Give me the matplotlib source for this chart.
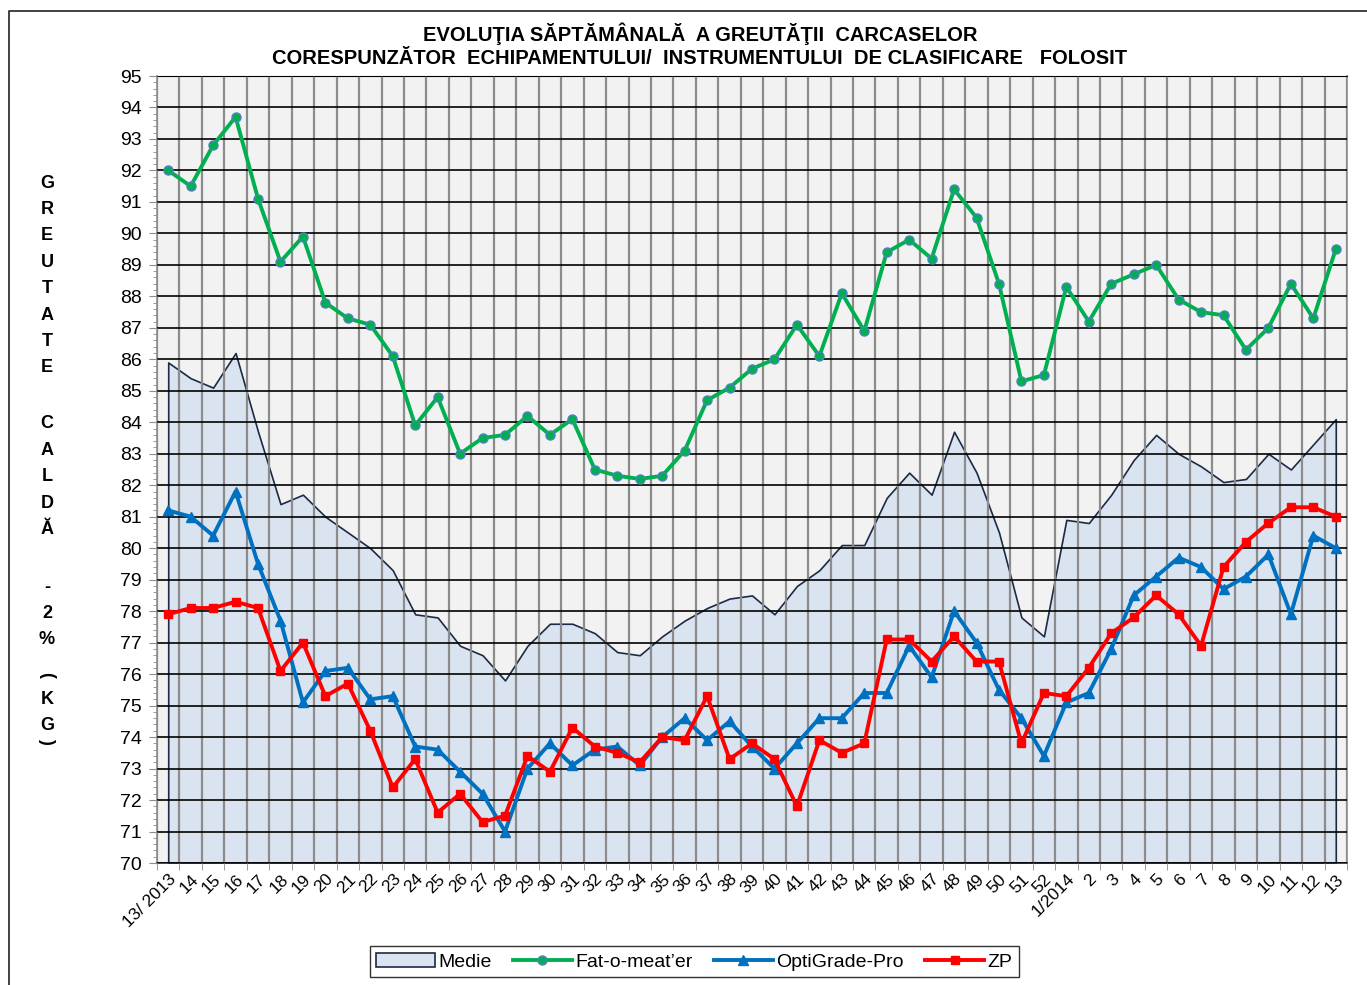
import matplotlib
matplotlib.use("Agg")
import matplotlib.pyplot as plt
from matplotlib.lines import Line2D
from matplotlib.ticker import MultipleLocator, FixedLocator

plt.rcParams['font.family'] = ['Liberation Sans', 'DejaVu Sans']

# week labels: 13/2013 ... 52, 1/2014 ... 13
weeks = ["13/ 2013"] + [str(w) for w in range(14, 53)] + ["1/2014"] + [str(w) for w in range(2, 14)]

medie = [85.9, 85.4, 85.1, 86.2, 83.7, 81.4, 81.7, 81.0, 80.5, 80.0,
         79.3, 77.9, 77.8, 76.9, 76.6, 75.8, 76.9, 77.6, 77.6, 77.3,
         76.7, 76.6, 77.2, 77.7, 78.1, 78.4, 78.5, 77.9, 78.8, 79.3,
         80.1, 80.1, 81.6, 82.4, 81.7, 83.7, 82.4, 80.5, 77.8, 77.2,
         80.9, 80.8, 81.7, 82.8, 83.6, 83.0, 82.6, 82.1, 82.2, 83.0,
         82.5, 83.3, 84.1]
fat_o_meater = [92.0, 91.5, 92.8, 93.7, 91.1, 89.1, 89.9, 87.8, 87.3, 87.1,
                86.1, 83.9, 84.8, 83.0, 83.5, 83.6, 84.2, 83.6, 84.1, 82.5,
                82.3, 82.2, 82.3, 83.1, 84.7, 85.1, 85.7, 86.0, 87.1, 86.1,
                88.1, 86.9, 89.4, 89.8, 89.2, 91.4, 90.5, 88.4, 85.3, 85.5,
                88.3, 87.2, 88.4, 88.7, 89.0, 87.9, 87.5, 87.4, 86.3, 87.0,
                88.4, 87.3, 89.5]
optigrade = [81.2, 81.0, 80.4, 81.8, 79.5, 77.7, 75.1, 76.1, 76.2, 75.2,
             75.3, 73.7, 73.6, 72.9, 72.2, 71.0, 73.0, 73.8, 73.1, 73.6,
             73.7, 73.1, 74.0, 74.6, 73.9, 74.5, 73.7, 73.0, 73.8, 74.6,
             74.6, 75.4, 75.4, 76.9, 75.9, 78.0, 77.0, 75.5, 74.6, 73.4,
             75.1, 75.4, 76.8, 78.5, 79.1, 79.7, 79.4, 78.7, 79.1, 79.8,
             77.9, 80.4, 80.0]
zp = [77.9, 78.1, 78.1, 78.3, 78.1, 76.1, 77.0, 75.3, 75.7, 74.2,
      72.4, 73.3, 71.6, 72.2, 71.3, 71.5, 73.4, 72.9, 74.3, 73.7,
      73.5, 73.2, 74.0, 73.9, 75.3, 73.3, 73.8, 73.3, 71.8, 73.9,
      73.5, 73.8, 77.1, 77.1, 76.4, 77.2, 76.4, 76.4, 73.8, 75.4,
      75.3, 76.2, 77.3, 77.8, 78.5, 77.9, 76.9, 79.4, 80.2, 80.8,
      81.3, 81.3, 81.0]

W, H = 1367, 985
fig = plt.figure(figsize=(W / 100, H / 100), dpi=100)
ax = fig.add_axes([157 / W, 1 - 863 / H, (1347 - 157) / W, (863 - 76) / H])
ax.set_facecolor("#f2f2f2")
x = list(range(len(weeks)))

# area + series
ax.fill_between(x, medie, 70, facecolor="#dae3f0", edgecolor="#1c2a44", lw=1.2, zorder=1)
ax.plot(x, fat_o_meater, color="#00b050", lw=2.8, marker="o", ms=6.5,
        mfc="#00b050", mec="#4f81bd", mew=1.0, zorder=4)
ax.plot(x, optigrade, color="#0070c0", lw=2.8, marker="^", ms=6.5,
        mfc="#0070c0", mec="#0070c0", zorder=4)
ax.plot(x, zp, color="#ff0000", lw=2.8, marker="s", ms=5.5,
        mfc="#ff0000", mec="#ff0000", zorder=5)

ax.set_xlim(-0.5, len(weeks) - 0.5)
ax.set_ylim(70, 95)

# grid: black horizontal at every kg, grey vertical between weeks
ax.set_axisbelow(False)
ax.yaxis.set_major_locator(MultipleLocator(1))
ax.yaxis.set_minor_locator(MultipleLocator(0.2))
ax.grid(axis="y", which="major", color="black", lw=1.2, zorder=2)
ax.set_xticks(x)
ax.set_xticklabels(weeks, rotation=45, ha="right", rotation_mode="anchor", fontsize=12.5)
ax.xaxis.set_minor_locator(FixedLocator([i - 0.5 for i in range(len(weeks) + 1)]))
ax.grid(axis="x", which="minor", color="#8c8c8c", lw=1.6, zorder=2)
ax.tick_params(axis="x", which="major", length=0, pad=6)
ax.tick_params(axis="x", which="minor", length=5, color="#8c8c8c", direction="out")
ax.tick_params(axis="y", which="major", length=6, color="#8c8c8c", labelsize=14, pad=5)
ax.tick_params(axis="y", which="minor", length=3, color="#8c8c8c")
for s in ["left", "right"]:
    ax.spines[s].set_color("#8c8c8c")
    ax.spines[s].set_linewidth(1.2)
ax.spines["bottom"].set_color("#1c2a44")
ax.spines["bottom"].set_linewidth(1.2)
ax.spines["top"].set_color("black")

# title
fig.text(0.512, 0.954,
         "EVOLUŢIA SĂPTĂMÂNALĂ  A GREUTĂŢII  CARCASELOR\n"
         "CORESPUNZĂTOR  ECHIPAMENTULUI/  INSTRUMENTULUI  DE CLASIFICARE   FOLOSIT",
         ha="center", va="center", fontsize=14.5, fontweight="bold", linespacing=1.3)

# stacked y label
ylab = ([(c, 183 + 26.4 * i) for i, c in enumerate("GREUTATE")] +
        [(c, 424 + 26.5 * i) for i, c in enumerate("CALDĂ")] +
        [("-", 588), ("2", 614), ("%", 640), ("K", 700), ("G", 726)])
for c, yp in ylab:
    fig.text(47 / W, 1 - yp / H, c, ha="center", va="center", fontsize=13, fontweight="bold")
fig.text(47 / W, 1 - 675 / H, "(", ha="center", va="center", fontsize=13, fontweight="bold", rotation=-90)
fig.text(47 / W, 1 - 741 / H, ")", ha="center", va="center", fontsize=13, fontweight="bold", rotation=-90)

# outer chart border (left + top)
fig.add_artist(Line2D([9 / W, 9 / W, 1], [0, 1 - 11 / H, 1 - 11 / H], color="#333333", lw=1.3))

# legend
handles = [plt.Rectangle((0, 0), 1, 1, fc="#dae3f0", ec="#1c2a44", lw=1.2),
           Line2D([], [], color="#00b050", lw=2.8, marker="o", ms=6.5, mfc="#00b050", mec="#4f81bd"),
           Line2D([], [], color="#0070c0", lw=2.8, marker="^", ms=6.5),
           Line2D([], [], color="#ff0000", lw=2.8, marker="s", ms=5.5)]
leg = fig.legend(handles, ["Medie", "Fat-o-meat’er", "OptiGrade-Pro", "ZP"],
                 loc="center", bbox_to_anchor=(0.508, 0.0235), ncol=4, fontsize=14,
                 frameon=True, fancybox=False, edgecolor="black", handlelength=3.0,
                 handletextpad=0.2, columnspacing=1.1, borderpad=0.35)
leg.get_frame().set_linewidth(1.0)

fig.savefig("out.png", dpi=100)
